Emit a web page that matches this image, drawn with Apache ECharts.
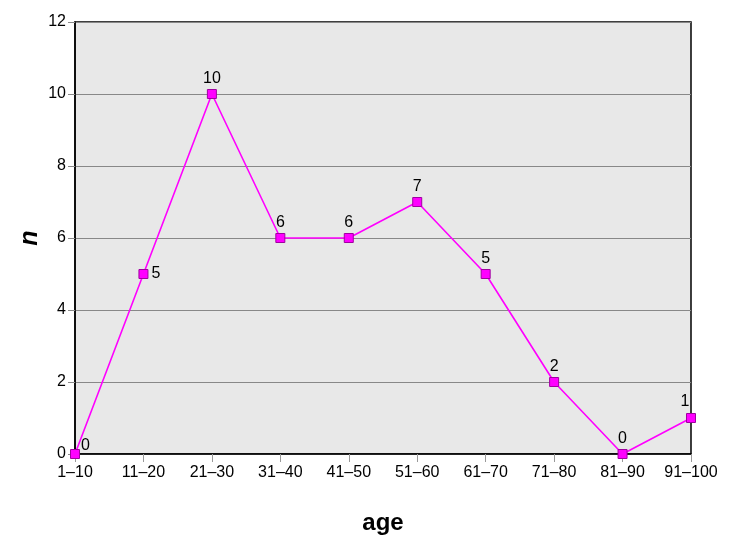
<!DOCTYPE html>
<html>
<head>
<meta charset="utf-8">
<script src="https://cdn.jsdelivr.net/npm/echarts@6/dist/echarts.min.js"></script>
<style>
  html, body { margin: 0; padding: 0; background: #fff; }
  #chart { width: 734px; height: 550px; }
</style>
</head>
<body>
<div id="chart"></div>
<script>
// age groups and counts
const ageGroups = ['1–10', '11–20', '21–30', '31–40', '41–50', '51–60', '61–70', '71–80', '81–90', '91–100'];
const counts = [0, 5, 10, 6, 6, 7, 5, 2, 0, 1];
const yTicks = [0, 2, 4, 6, 8, 10, 12];

const FONT = '"Liberation Sans", Arial, sans-serif';

// per-point label placement like the original
const labelPos = (i) => {
    if (i === 0) return { position: 'right', offset: [-2, -8] };
    if (i === 1) return { position: 'right', offset: [0, 0] };
    if (i === ageGroups.length - 1) return { position: 'top', offset: [-6, 0] };
    return { position: 'top', offset: [0, 1] };
};

const chart = echarts.init(document.getElementById('chart'));
chart.setOption({
    backgroundColor: '#fff',
    animation: false,
    grid: { left: 75, right: 43, top: 22, bottom: 96, show: true, backgroundColor: '#e8e8e8', borderColor: '#000', borderWidth: 1.5 },
    xAxis: {
        type: 'category',
        data: ageGroups,
        boundaryGap: false,
        name: 'age',
        nameLocation: 'middle',
        nameGap: 57,
        nameMoveOverlap: false,
        nameTextStyle: { fontFamily: FONT, fontSize: 24, fontWeight: 'bold', color: '#000' },
        axisLine: { lineStyle: { color: '#000', width: 1.5 } },
        axisTick: { show: true, alignWithLabel: true, interval: 0, length: 8, lineStyle: { color: '#999' } },
        axisLabel: { interval: 0, fontFamily: FONT, fontSize: 16, color: '#000', margin: 11 },
        splitLine: { show: false }
    },
    yAxis: {
        type: 'value',
        min: yTicks[0],
        max: yTicks[yTicks.length - 1],
        interval: 2,
        name: 'n',
        nameLocation: 'middle',
        nameRotate: 90,
        nameGap: 32,
        nameMoveOverlap: false,
        nameTextStyle: { fontFamily: FONT, fontSize: 25, fontWeight: 'bold', fontStyle: 'italic', color: '#000' },
        axisLine: { show: true, lineStyle: { color: '#000', width: 1.5 } },
        axisTick: { show: true, length: 7, lineStyle: { color: '#888' } },
        axisLabel: { fontFamily: FONT, fontSize: 16, color: '#000', margin: 9 },
        splitLine: { show: true, lineStyle: { color: '#888', width: 1.2 } }
    },
    series: [{
        type: 'line',
        data: counts.map((v, i) => ({ value: v, label: labelPos(i) })),
        symbol: 'rect',
        symbolSize: 9,
        lineStyle: { color: '#ff00ff', width: 1.6 },
        itemStyle: { color: '#ff00ff', borderColor: '#a000a0', borderWidth: 1 },
        label: { show: true, fontFamily: FONT, fontSize: 16, color: '#000', distance: 3 },
        z: 5
    }]
});
</script>
</body>
</html>
